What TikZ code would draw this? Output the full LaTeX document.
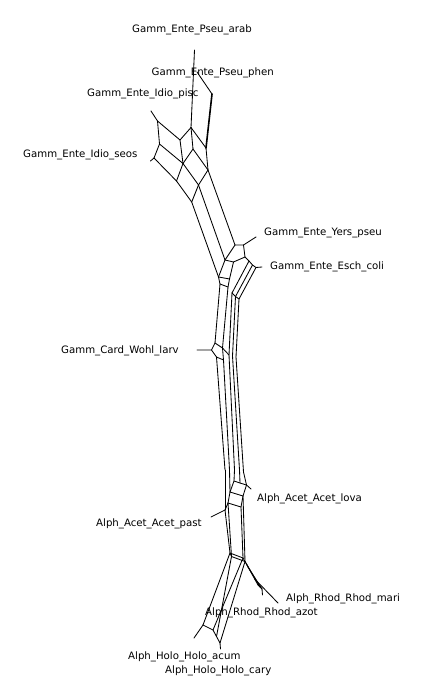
\documentclass[tikz,border=0pt]{standalone}
\usepackage{fontspec}
\setmainfont{DejaVu Sans}
\begin{document}
\begin{tikzpicture}[x=1pt,y=-1pt,
  net/.style={draw=black,line width=0.85pt,line join=round,line cap=round},
  netthick/.style={net,line width=1.6pt},
  lbl/.style={anchor=west,inner sep=0pt,font=\fontsize{10.2}{12}\selectfont}]
\useasboundingbox (0,0) rectangle (427,700);
% ---- top (Gamma Ente) ----
\coordinate (arabL) at (194.5,50);  \coordinate (A1) at (191,127.5);
\coordinate (phenL) at (197,72);    \coordinate (B1) at (212,94);
\coordinate (piscL) at (151,111);   \coordinate (P1) at (157.5,121);
\coordinate (P2) at (159.5,144);    \coordinate (S1) at (154,158);
\coordinate (seosL) at (150.5,161);
\coordinate (M1) at (180,140); \coordinate (M2) at (183,163.5); \coordinate (M3) at (176.5,181);
\coordinate (A2) at (193,149); \coordinate (R1) at (206,148); \coordinate (R2) at (208,170);
\coordinate (R3) at (198.5,185); \coordinate (R4) at (191.7,202);
% ---- Yers / Esch ----
\coordinate (Y1) at (235,245); \coordinate (Y1b) at (243.5,245); \coordinate (yersL) at (256,237);
\coordinate (Y2) at (225,260); \coordinate (Y2b) at (233.5,262);
\coordinate (Y3) at (218.5,277); \coordinate (Y3b) at (229.5,279);
\coordinate (E1) at (245,257); \coordinate (a1) at (249,261); \coordinate (a2) at (252.5,265);
\coordinate (a3) at (256,267.5); \coordinate (eschL) at (262,267);
\coordinate (t1a) at (220,284); \coordinate (t2a) at (228,287);
\coordinate (f3) at (232,293); \coordinate (f4) at (235.5,296.5); \coordinate (f5) at (239,299);
% ---- Card ----
\coordinate (C1) at (215,343); \coordinate (C2) at (222.5,348); \coordinate (C0) at (211.5,350);
\coordinate (cardL) at (197,350); \coordinate (C3) at (216.5,357); \coordinate (C4) at (223.5,360);
\coordinate (C5) at (229,355); \coordinate (m4) at (232.5,356); \coordinate (m5) at (236,357);
% ---- Acet ----
\coordinate (lo1) at (225,470); \coordinate (lo2) at (229.5,470); \coordinate (lo3) at (234.5,470);
\coordinate (lo4) at (239.5,470); \coordinate (lo5) at (243.5,472);
\coordinate (K1) at (234,481); \coordinate (Kmid) at (240,483); \coordinate (K2) at (246.5,485);
\coordinate (K3) at (243,496); \coordinate (K4) at (230,492); \coordinate (lovaL) at (251,489);
\coordinate (P0) at (225,510); \coordinate (pastL) at (211,517);
\coordinate (Q1) at (228,503); \coordinate (Q2) at (241,507);
% ---- lower cluster ----
\coordinate (J1) at (230,553); \coordinate (J2) at (243,558); \coordinate (J3) at (231.5,556.5);
\coordinate (J4) at (245,561.5); \coordinate (J5) at (248,567);
\coordinate (H1) at (203,625); \coordinate (Hm) at (213,630); \coordinate (Hx) at (216.5,636.5);
\coordinate (H3) at (220,643); \coordinate (acumL) at (194,638); \coordinate (caryL) at (220.5,649);
\coordinate (Ra) at (258,585); \coordinate (Rb) at (262,589); \coordinate (Rm) at (254.7,579);
\coordinate (Rc) at (260,587); \coordinate (J45) at (246.5,564);
\coordinate (mariL) at (278,603); \coordinate (azotL) at (262.5,595);

% ---- edges: top ----
\draw[net] (arabL) -- (A1);
\draw[net] (phenL) -- (B1);
\draw[netthick] (B1) -- (R1);
\draw[net] (R1) -- (R2);
\draw[net] (piscL) -- (P1) -- (P2) -- (S1) -- (seosL);
\draw[net] (P1) -- (M1) -- (A1);
\draw[net] (P2) -- (M2);
\draw[net] (M1) -- (M2) -- (M3);
\draw[net] (S1) -- (M3);
\draw[net] (A1) -- (A2);
\draw[net] (M2) -- (A2);
\draw[net] (A1) -- (R1);
\draw[net] (A2) -- (R2);
\draw[net] (M2) -- (R3);
\draw[net] (R2) -- (R3);
\draw[net] (M3) -- (R4);
\draw[net] (R3) -- (R4);
% long branches
\draw[net] (R2) -- (Y1);
\draw[net] (R3) -- (Y2);
\draw[net] (R4) -- (Y3);
% Yers / Esch
\draw[net] (Y1) -- (Y1b) -- (yersL);
\draw[net] (Y1) -- (Y2) -- (Y3);
\draw[net] (Y2) -- (Y2b);
\draw[net] (Y3) -- (Y3b);
\draw[net] (Y1b) -- (E1) -- (Y2b) -- (Y3b);
\draw[net] (Y3) -- (t1a);
\draw[net] (Y3b) -- (t2a);
\draw[net] (t1a) -- (t2a);
\draw[net] (E1) -- (a1) -- (a2) -- (a3) -- (eschL);
\draw[net] (a1) -- (f3);
\draw[net] (a2) -- (f4);
\draw[net] (a3) -- (f5);
\draw[net] (f3) -- (f4) -- (f5);
% trunk upper
\draw[net] (t1a) -- (C1);
\draw[net] (t2a) -- (C2);
\draw[net] (f3) -- (C5);
\draw[net] (f4) -- (m4);
\draw[net] (f5) -- (m5);
% Card
\draw[net] (C1) -- (C0) -- (cardL);
\draw[net] (C0) -- (C3);
\draw[net] (C1) -- (C2) -- (C5);
\draw[net] (C3) -- (C4);
\draw[net] (C2) -- (C4);
% trunk lower
\draw[net] (C3) -- (lo1);
\draw[net] (C4) -- (lo2);
\draw[net] (C5) -- (lo3);
\draw[net] (m4) -- (lo4);
\draw[net] (m5) -- (lo5);
\draw[net] (lo1) -- (P0);
\draw[net] (lo2) -- (K4);
\draw[net] (lo3) -- (K1);
\draw[net] (lo4) -- (Kmid);
\draw[net] (lo5) -- (K2);
% Acet
\draw[net] (K1) -- (Kmid) -- (K2) -- (K3) -- (K4) -- (K1);
\draw[net] (K2) -- (lovaL);
\draw[net] (K4) -- (Q1);
\draw[net] (K3) -- (Q2);
\draw[net] (Q1) -- (Q2);
\draw[net] (P0) -- (Q1);
\draw[net] (P0) -- (pastL);
% bundle down to lower cluster
\draw[net] (P0) -- (J1);
\draw[net] (Q1) -- (J3);
\draw[net] (Q2) -- (J2);
\draw[net] (K3) -- (J4);
\draw[net] (J1) -- (J2);
\draw[net] (J3) -- (J4);
\draw[net] (J1) -- (J3);
\draw[net] (J2) -- (J4) -- (J45) -- (J5);
% Holo
\draw[net] (J1) -- (H1);
\draw[net] (J3) -- (Hx);
\draw[net] (J2) -- (Hm);
\draw[net] (J4) -- (H3);
\draw[net] (H1) -- (Hm) -- (Hx) -- (H3);
\draw[net] (H1) -- (acumL);
\draw[net] (H3) -- (caryL);
% Rhod
\draw[net] (J4) -- (Ra);
\draw[net] (J45) -- (Rc);
\draw[net] (J5) -- (Rb);
\draw[net] (Ra) -- (Rc) -- (Rb);
\draw[net] (Rm) -- (mariL);
\draw[net] (Rb) -- (azotL);

% ---- labels ----
\node[lbl] (tarab) at (132,29.5) {Gamm\_Ente\_Pseu\_arab};
\node[lbl] (tphen) at (151.5,73) {Gamm\_Ente\_Pseu\_phen};
\node[lbl] (tpisc) at (87,93.5) {Gamm\_Ente\_Idio\_pisc};
\node[lbl] (tseos) at (23,154.5) {Gamm\_Ente\_Idio\_seos};
\node[lbl] (tyers) at (264,232.5) {Gamm\_Ente\_Yers\_pseu};
\node[lbl] (tesch) at (270,266.5) {Gamm\_Ente\_Esch\_coli};
\node[lbl] (tcard) at (61,351) {Gamm\_Card\_Wohl\_larv};
\node[lbl] (tlova) at (257,498.5) {Alph\_Acet\_Acet\_lova};
\node[lbl] (tpast) at (96,523.5) {Alph\_Acet\_Acet\_past};
\node[lbl] (tmari) at (286,598.5) {Alph\_Rhod\_Rhod\_mari};
\node[lbl] (tazot) at (205,612.5) {Alph\_Rhod\_Rhod\_azot};
\node[lbl] (tacum) at (128,656.5) {Alph\_Holo\_Holo\_acum};
\node[lbl] (tcary) at (165,670.5) {Alph\_Holo\_Holo\_cary};
\end{tikzpicture}
\end{document}
